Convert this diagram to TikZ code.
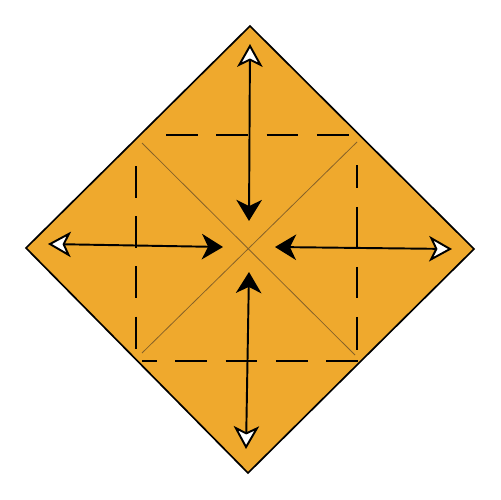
\documentclass[tikz,border=0pt]{standalone}
\usetikzlibrary{arrows.meta}
\definecolor{paper}{RGB}{239,169,45}
\definecolor{crease}{RGB}{135,98,40}
\begin{document}
\begin{tikzpicture}[x=0.02cm,y=-0.02cm,
    flap/.style={line width=1.1pt,
      {Stealth[length=13pt,width=14.5pt,inset=3.5pt,fill=white,line width=1.1pt]}-{Stealth[length=12pt,width=14.5pt,inset=3.5pt]}},
    valley/.style={line width=0.9pt,dash pattern=on 18.1pt off 10.5pt}]
    \useasboundingbox (0,0) rectangle (500,500);
    \coordinate (top) at (250,26);
    \coordinate (left) at (26,248);
    \coordinate (bottom) at (248,473);
    \coordinate (right) at (474,249);
    \filldraw[fill=paper,line width=0.95pt] (top) -- (left) -- (bottom) -- (right) -- cycle;
    \draw[crease,line width=0.45pt] (142,143) -- (355,355);
    \draw[crease,line width=0.45pt] (357,142) -- (142,353);
    \draw[valley] (166,135) -- (351,135);
    \draw[valley] (136,166) -- (136,353);
    \draw[valley,dash pattern=on 13pt off 10.8pt on 24pt off 10.2pt on 17.6pt off 10.8pt on 18.7pt] (357,165) -- (357,350);
    \draw[valley,dash phase=9.6pt] (142,361) -- (360,361);
    \coordinate (topout) at (250,44);
    \coordinate (topin) at (249,221);
    \coordinate (leftout) at (48,244);
    \coordinate (leftin) at (223,247);
    \coordinate (rightout) at (452,249);
    \coordinate (rightin) at (275,247);
    \coordinate (bottomout) at (246,449);
    \coordinate (bottomin) at (249,272);
    \draw[flap] (topout) -- (topin);
    \draw[flap] (leftout) -- (leftin);
    \draw[flap] (rightout) -- (rightin);
    \draw[flap] (bottomout) -- (bottomin);
\end{tikzpicture}
\end{document}
